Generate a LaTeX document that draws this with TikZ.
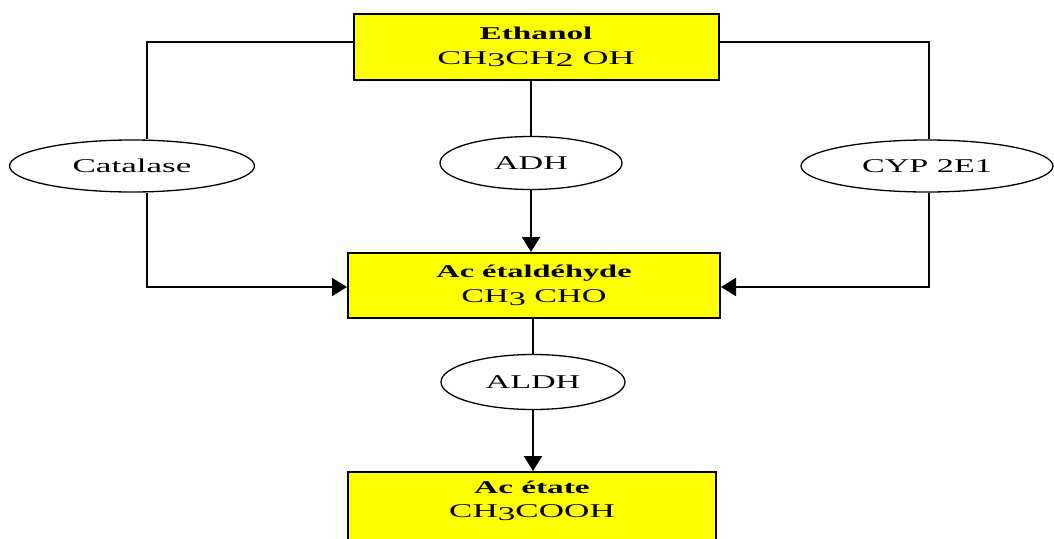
\documentclass[tikz,border=0pt]{standalone}
\usepackage{fontspec}
\setmainfont{Liberation Serif}
\usetikzlibrary{arrows.meta,shapes.geometric}
\definecolor{boxyellow}{RGB}{255,255,0}
\newcommand{\lo}[1]{\raisebox{-0.3ex}{#1}}
\newcommand{\wtxt}[2][1.85]{\scalebox{#1}[1]{#2}}
\begin{document}
\begin{tikzpicture}[x=1pt,y=-1pt,
  cpd/.style={draw=black,line width=2pt,fill=boxyellow,minimum width=#1,minimum height=66pt,inner sep=0pt,align=center,font=\fontsize{19.5}{25}\selectfont},
  enz/.style={ellipse,draw=black,line width=1.3pt,fill=white,inner sep=0pt,font=\fontsize{19.5}{22}\selectfont},
  conn/.style={line width=2pt},
  arr/.style={line width=2pt,-{Triangle[width=18pt,length=15pt]}}]
\useasboundingbox (0,0) rectangle (1054,538);
\clip (0,0) rectangle (1054,538);
\node[cpd=365pt] (eth) at (536,47) {\wtxt{\bfseries\fontsize{18}{25}\selectfont Ethanol}\\\wtxt{CH\lo{3}CH\lo{2} OH}};
\node[cpd=372pt,minimum height=65pt] (ace) at (534,285.5) {\wtxt[1.8]{\bfseries\fontsize{18}{25}\selectfont Ac étaldéhyde}\\\wtxt[1.75]{CH\lo{3} CHO}};
\node[cpd=368pt,minimum height=72pt] (act) at (532,508) {\wtxt{\bfseries\fontsize{18}{25}\selectfont Ac étate}\\[-1pt]\wtxt[1.8]{CH\lo{3}COOH}\\[-8pt]\mbox{}};
\node[enz,minimum width=245pt,minimum height=52pt] (cat) at (132,166) {\wtxt[1.8]{Catalase}};
\node[enz,minimum width=182pt,minimum height=53pt] (adh) at (531,163) {\wtxt[1.75]{ADH}};
\node[enz,minimum width=252pt,minimum height=52pt] (cyp) at (927,166) {\wtxt[1.75]{CYP 2E1}};
\node[enz,minimum width=184pt,minimum height=55pt] (aldh) at (533,382) {\wtxt[1.75]{ALDH}};
\coordinate (cL) at (147,42);
\coordinate (cR) at (929,42);
\coordinate (cLb) at (147,287);
\coordinate (cRb) at (929,287);
% left branch
\draw[conn] (eth.west |- cL) -- (cL) -- (cL |- cat.north);
\draw[arr] (cL |- cat.south) -- (cLb) -- (ace.west |- cLb);
% right branch
\draw[conn] (eth.east |- cR) -- (cR) -- (cR |- cyp.north);
\draw[arr] (cR |- cyp.south) -- (cRb) -- (ace.east |- cRb);
% center
\draw[conn] (eth.south -| adh.north) -- (adh.north);
\draw[arr] (adh.south) -- (adh.south |- ace.north);
\draw[conn] (ace.south -| aldh.north) -- (aldh.north);
\draw[arr] (aldh.south) -- (aldh.south |- act.north);
\end{tikzpicture}
\end{document}
